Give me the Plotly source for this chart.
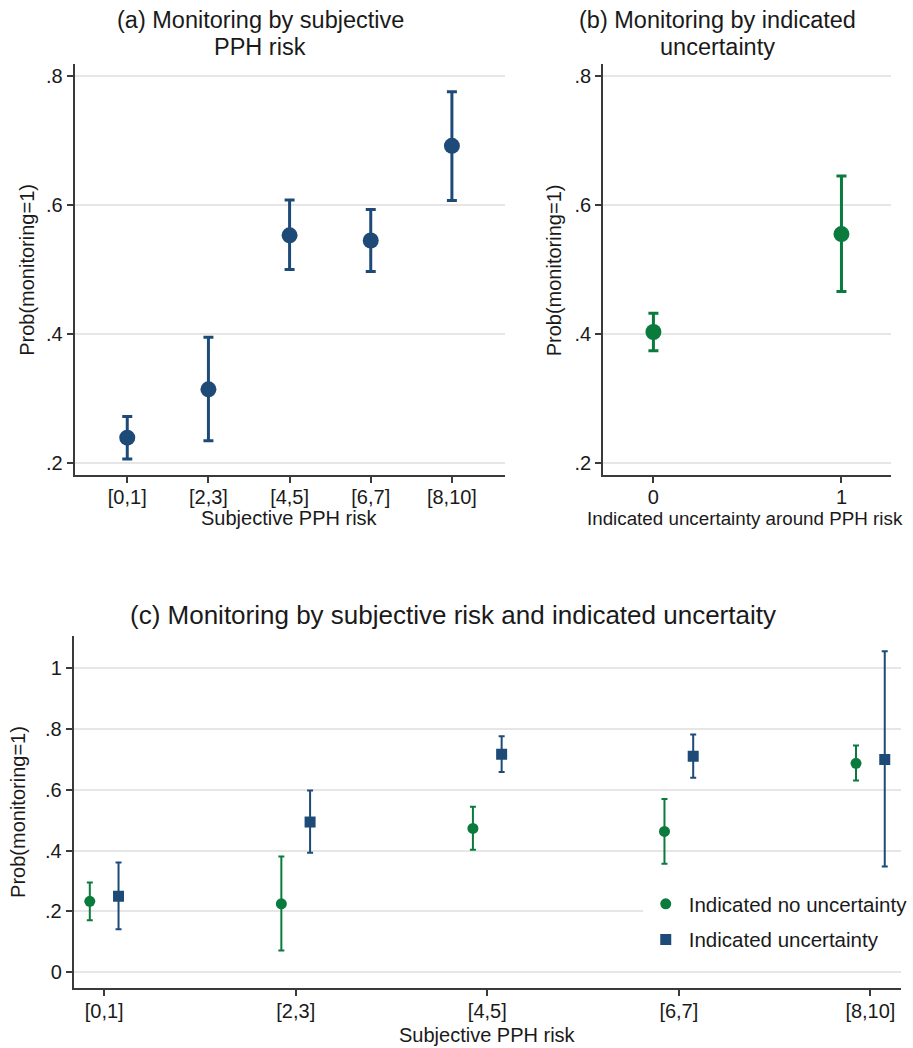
import plotly.graph_objects as go

# ---------------- data ----------------
categories = ["[0,1]", "[2,3]", "[4,5]", "[6,7]", "[8,10]"]

# (a) monitoring by subjective PPH risk
a_est = [0.239, 0.314, 0.553, 0.545, 0.692]
a_lo = [0.206, 0.234, 0.500, 0.497, 0.607]
a_hi = [0.272, 0.395, 0.608, 0.593, 0.776]

# (b) monitoring by indicated uncertainty
b_labels = ["0", "1"]
b_est = [0.403, 0.555]
b_lo = [0.374, 0.466]
b_hi = [0.432, 0.645]

# (c) by subjective risk and indicated uncertainty
c_no_est = [0.233, 0.225, 0.473, 0.463, 0.687]
c_no_lo = [0.171, 0.071, 0.403, 0.357, 0.631]
c_no_hi = [0.295, 0.381, 0.544, 0.570, 0.746]
c_un_est = [0.250, 0.494, 0.717, 0.710, 0.700]
c_un_lo = [0.141, 0.393, 0.659, 0.640, 0.348]
c_un_hi = [0.361, 0.598, 0.776, 0.782, 1.056]

ab_ticks = [0.2, 0.4, 0.6, 0.8]
ab_ticklabels = [".2", ".4", ".6", ".8"]
c_ticks = [0, 0.2, 0.4, 0.6, 0.8, 1.0]
c_ticklabels = ["0", ".2", ".4", ".6", ".8", "1"]

# ---------------- style ----------------
W, H = 913, 1048
NAVY = "#1d4a76"
GREEN = "#0b7a3d"
FONT = "Liberation Sans, Arial, sans-serif"
TXT = "#1a1a1a"
AXIS = "#3a3a3a"
GRID = "#e6e6e6"
OFFSET = 0.075


def px_x(p):
    return p / W


def px_y(p):
    return 1 - p / H


def errs(est, lo, hi):
    return [h - e for e, h in zip(est, hi)], [e - l for e, l in zip(est, lo)]


fig = go.Figure()

xa = list(range(1, len(categories) + 1))
up, dn = errs(a_est, a_lo, a_hi)
fig.add_trace(go.Scatter(
    x=xa, y=a_est, mode="markers", showlegend=False,
    marker=dict(color=NAVY, size=16, symbol="circle"),
    error_y=dict(type="data", symmetric=False, array=up, arrayminus=dn,
                 color=NAVY, thickness=3, width=5),
    xaxis="x", yaxis="y"))

xb = list(range(len(b_labels)))
up, dn = errs(b_est, b_lo, b_hi)
fig.add_trace(go.Scatter(
    x=xb, y=b_est, mode="markers", showlegend=False,
    marker=dict(color=GREEN, size=16, symbol="circle"),
    error_y=dict(type="data", symmetric=False, array=up, arrayminus=dn,
                 color=GREEN, thickness=3, width=5),
    xaxis="x2", yaxis="y2"))

up, dn = errs(c_no_est, c_no_lo, c_no_hi)
fig.add_trace(go.Scatter(
    x=[i - OFFSET for i in xa], y=c_no_est, mode="markers",
    name="Indicated no uncertainty", legendgroup="g1",
    marker=dict(color=GREEN, size=11, symbol="circle"),
    error_y=dict(type="data", symmetric=False, array=up, arrayminus=dn,
                 color=GREEN, thickness=2, width=3),
    xaxis="x3", yaxis="y3"))

up, dn = errs(c_un_est, c_un_lo, c_un_hi)
fig.add_trace(go.Scatter(
    x=[i + OFFSET for i in xa], y=c_un_est, mode="markers",
    name="Indicated uncertainty", legendgroup="g2",
    marker=dict(color=NAVY, size=11, symbol="square"),
    error_y=dict(type="data", symmetric=False, array=up, arrayminus=dn,
                 color=NAVY, thickness=2, width=3),
    xaxis="x3", yaxis="y3"))

axis_common = dict(
    showline=True, linecolor=AXIS, linewidth=1.5,
    ticks="outside", ticklen=6, tickwidth=1.5, tickcolor=AXIS,
    tickfont=dict(family=FONT, size=20, color=TXT),
    zeroline=False, mirror=False,
)

fig.update_layout(
    width=W, height=H, autosize=False,
    margin=dict(l=0, r=0, t=0, b=0),
    paper_bgcolor="white", plot_bgcolor="white",
    font=dict(family=FONT, color=TXT),
    xaxis=dict(domain=[px_x(75), px_x(508)], range=[0.35, 5.65],
               tickmode="array", tickvals=xa, ticktext=categories,
               showgrid=False, anchor="y", ticklabelstandoff=-3, **axis_common),
    yaxis=dict(domain=[px_y(475), px_y(64)], range=[0.181, 0.819],
               tickmode="array", tickvals=ab_ticks, ticktext=ab_ticklabels,
               showgrid=True, gridcolor=GRID, gridwidth=1.5, anchor="x",
               **axis_common),
    xaxis2=dict(domain=[px_x(607), px_x(897)], range=[-0.268, 1.264],
                tickmode="array", tickvals=xb, ticktext=b_labels,
                showgrid=False, anchor="y2", ticklabelstandoff=-3, **axis_common),
    yaxis2=dict(domain=[px_y(475), px_y(64)], range=[0.181, 0.819],
                tickmode="array", tickvals=ab_ticks, ticktext=ab_ticklabels,
                showgrid=True, gridcolor=GRID, gridwidth=1.5, anchor="x2",
                **axis_common),
    xaxis3=dict(domain=[px_x(74), px_x(907)], range=[0.84, 5.16],
                tickmode="array", tickvals=xa, ticktext=categories,
                showgrid=False, anchor="y3", ticklabelstandoff=-2, **axis_common),
    yaxis3=dict(domain=[px_y(988), px_y(636)], range=[-0.052, 1.106],
                tickmode="array", tickvals=c_ticks, ticktext=c_ticklabels,
                showgrid=True, gridcolor=GRID, gridwidth=1.5, anchor="x3",
                **axis_common),
    legend=dict(x=px_x(647), y=px_y(884), xanchor="left", yanchor="top",
                bgcolor="white", borderwidth=0, itemwidth=36,
                font=dict(family=FONT, size=20.5, color=TXT),
                tracegroupgap=6, traceorder="grouped"),
    showlegend=True,
)

annots = [
    ("(a) Monitoring by subjective", 262, 20, 23.5, 0),
    ("PPH risk", 262, 47, 23.5, 0),
    ("(b) Monitoring by indicated", 722, 20, 23.5, 0),
    ("uncertainty", 722, 47, 23.5, 0),
    ("(c) Monitoring by subjective risk and indicated uncertaity", 456, 615, 26, 0),
    ("Subjective PPH risk", 291.5, 518, 20, 0),
    ("Indicated uncertainty around PPH risk", 750, 518, 18.8, 0),
    ("Subjective PPH risk", 490.5, 1035, 20, 0),
    ("Prob(monitoring=1)", 27, 270, 20, -90),
    ("Prob(monitoring=1)", 558, 270, 20, -90),
    ("Prob(monitoring=1)", 18, 812, 20, -90),
]
for text, x, y, size, ang in annots:
    fig.add_annotation(text=text, x=px_x(x), y=px_y(y), xref="paper", yref="paper",
                       xanchor="center", yanchor="middle", showarrow=False,
                       textangle=ang, font=dict(family=FONT, size=size, color=TXT))

fig.write_html("out.html")
